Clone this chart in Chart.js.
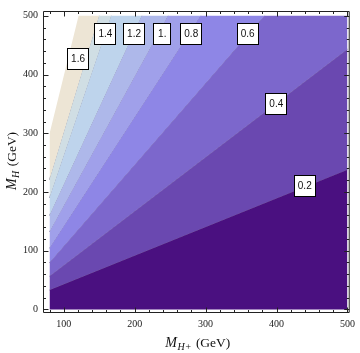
<!DOCTYPE html>
<html><head><meta charset="utf-8">
<script src="https://cdn.jsdelivr.net/npm/chart.js@4"></script>
<style>html,body{margin:0;padding:0;background:#fff}canvas{display:block}</style>
</head><body>
<canvas id="c" width="360" height="353"></canvas>
<script>
// ---- data ----
const levels   = ['0.2','0.4','0.6','0.8','1.','1.2','1.4','1.6'];
const startMH  = [33, 56.5, 79.6, 104, 132, 160, 190, 221];   // M_H where each contour meets M_H+ = 80
const endMHp   = [500, 500, 383, 293, 247, 210, 167, 150];     // end point of each contour (M_H+)
const endMH    = [238, 443, 500, 500, 500, 500, 500, 500];     // end point of each contour (M_H)
const gapMHp   = [80, 121];                                    // edge of the undefined (white) region
const gapMH    = [299, 500];
const labelMHp = [439.8, 399.7, 359.4, 279.8, 238.9, 199.2, 158.7, 120.2];
const labelMH  = [209.9, 350, 468.7, 468.7, 468.7, 468.7, 468.7, 427.5];
const domainMHp = [80, 500];
const domainMH  = [0, 500];
const xMajor = [100, 200, 300, 400, 500];
const yMajor = [0, 100, 200, 300, 400, 500];
const xMinor = [80,120,140,160,180,220,240,260,280,320,340,360,380,420,440,460,480];
const yMinor = [20,40,60,80,120,140,160,180,220,240,260,280,320,340,360,380,420,440,460,480];

// ---- styles ----
const bandColors = ['rgb(74,16,128)','rgb(106,72,176)','rgb(124,103,204)','rgb(142,134,230)',
  'rgb(160,160,234)','rgb(174,184,234)','rgb(190,212,236)','rgb(208,222,228)','rgb(237,229,213)'];
const clear = 'rgba(0,0,0,0)';

function boundary(y0, xe, ye) {
  const pts = [{x: domainMHp[0], y: y0}, {x: xe, y: ye}];
  if (xe < domainMHp[1]) pts.push({x: domainMHp[1], y: domainMH[1]});
  return pts;
}

const datasets = [{data: [{x: domainMHp[0], y: domainMH[0]}, {x: domainMHp[1], y: domainMH[0]}],
  borderColor: clear, borderWidth: 0, pointRadius: 0, fill: false}];
levels.forEach((l, i) => datasets.push({
  data: boundary(startMH[i], endMHp[i], endMH[i]), fill: '-1',
  backgroundColor: bandColors[i], borderColor: clear, borderWidth: 0, pointRadius: 0}));
datasets.push({data: boundary(gapMH[0], gapMHp[1], gapMH[1]), fill: '-1',
  backgroundColor: bandColors[8], borderColor: clear, borderWidth: 0, pointRadius: 0});
levels.forEach((l, i) => datasets.push({
  data: [{x: domainMHp[0], y: startMH[i]}, {x: endMHp[i], y: endMH[i]}], fill: false,
  borderColor: 'rgba(35,25,60,0.6)', borderWidth: 0.9, pointRadius: 0}));

function drawParts(ctx, parts, x0, base) {
  let x = x0;
  parts.forEach(p => { ctx.font = p.f; ctx.fillText(p.t, x, base + (p.dy || 0)); x += ctx.measureText(p.t).width + (p.gap || 0); });
}
function partsWidth(ctx, parts) {
  let w = 0; parts.forEach(p => { ctx.font = p.f; w += ctx.measureText(p.t).width + (p.gap || 0); }); return w;
}

const deco = {
  id: 'deco',
  afterDraw(chart) {
    const {ctx, chartArea: a, scales: {x, y}} = chart;
    ctx.save();
    // contour labels
    ctx.font = '10px "Liberation Sans"';
    ctx.textAlign = 'center'; ctx.textBaseline = 'middle';
    levels.forEach((t, i) => {
      const cx = x.getPixelForValue(labelMHp[i]), cy = y.getPixelForValue(labelMH[i]);
      const w = Math.max(ctx.measureText(t).width + 8, 17.5), h = 21.5;
      const lx = Math.round(cx - w / 2), ty = Math.round(cy - h / 2);
      ctx.fillStyle = '#fff'; ctx.fillRect(lx, ty, Math.round(w), Math.round(h));
      ctx.strokeStyle = '#000'; ctx.lineWidth = 1;
      ctx.strokeRect(lx + 0.5, ty + 0.5, Math.round(w) - 1, Math.round(h) - 1);
      ctx.fillStyle = '#111'; ctx.fillText(t, cx, cy + 0.5);
    });
    // frame
    ctx.strokeStyle = '#222'; ctx.lineWidth = 1;
    const L = a.left + 0.5, R = a.right - 0.5, T = a.top + 0.5, B = a.bottom - 0.5;
    ctx.beginPath(); ctx.moveTo(L, T); ctx.lineTo(R, T); ctx.lineTo(R, B); ctx.lineTo(L, B); ctx.closePath(); ctx.stroke();
    // ticks (inward, all four sides)
    ctx.beginPath();
    const xt = (v, len) => { const p = Math.round(x.getPixelForValue(v)) + 0.5; ctx.moveTo(p, B); ctx.lineTo(p, B - len); ctx.moveTo(p, T); ctx.lineTo(p, T + len); };
    const yt = (v, len) => { const p = Math.round(y.getPixelForValue(v)) + 0.5; ctx.moveTo(L, p); ctx.lineTo(L + len, p); ctx.moveTo(R, p); ctx.lineTo(R - len, p); };
    xMajor.forEach(v => xt(v, 5)); xMinor.forEach(v => xt(v, 2.5));
    yMajor.forEach(v => yt(v, 5)); yMinor.forEach(v => yt(v, 2.5));
    ctx.stroke();
    // axis titles
    ctx.fillStyle = '#111'; ctx.textAlign = 'left'; ctx.textBaseline = 'alphabetic';
    const xParts = [{t: 'M', f: 'italic 14px "Liberation Serif"', gap: 0.5},
      {t: 'H+', f: 'italic 10px "Liberation Serif"', dy: 3, gap: 1},
      {t: ' (GeV)', f: '13.5px "Liberation Serif"'}];
    const xw = partsWidth(ctx, xParts);
    drawParts(ctx, xParts, (a.left + a.right) / 2 + 1.5 - xw / 2, 347);
    const yParts = [{t: 'M', f: 'italic 14px "Liberation Serif"', gap: 0.5},
      {t: 'H', f: 'italic 10px "Liberation Serif"', dy: 3, gap: 1},
      {t: ' (GeV)', f: '13.5px "Liberation Serif"'}];
    const yw = partsWidth(ctx, yParts);
    ctx.translate(16, 161); ctx.rotate(-Math.PI / 2);
    drawParts(ctx, yParts, -yw / 2, 0);
    ctx.restore();
  }
};

new Chart(document.getElementById('c'), {
  type: 'line',
  data: {datasets},
  options: {
    responsive: false, animation: false, parsing: true,
    layout: {padding: {left: 0, right: 6, top: 1, bottom: 0}},
    plugins: {legend: {display: false}, tooltip: {enabled: false}},
    elements: {line: {tension: 0}},
    scales: {
      x: {type: 'linear', min: 70.82, max: 503.2,
        afterBuildTicks: s => { s.ticks = xMajor.map(v => ({value: v})); },
        afterFit: s => { s.height = 40; },
        grid: {display: false, drawTicks: false}, border: {display: false},
        ticks: {font: {family: '"Liberation Serif"', size: 10}, color: '#222', padding: 5, maxRotation: 0, autoSkip: false}},
      y: {type: 'linear', min: -6.1, max: 508.2,
        afterBuildTicks: s => { s.ticks = yMajor.map(v => ({value: v})); },
        afterFit: s => { s.width = 43; },
        grid: {display: false, drawTicks: false}, border: {display: false},
        ticks: {font: {family: '"Liberation Serif"', size: 10}, color: '#222', padding: 5, autoSkip: false}}
    }
  },
  plugins: [deco]
});
</script>
</body></html>
